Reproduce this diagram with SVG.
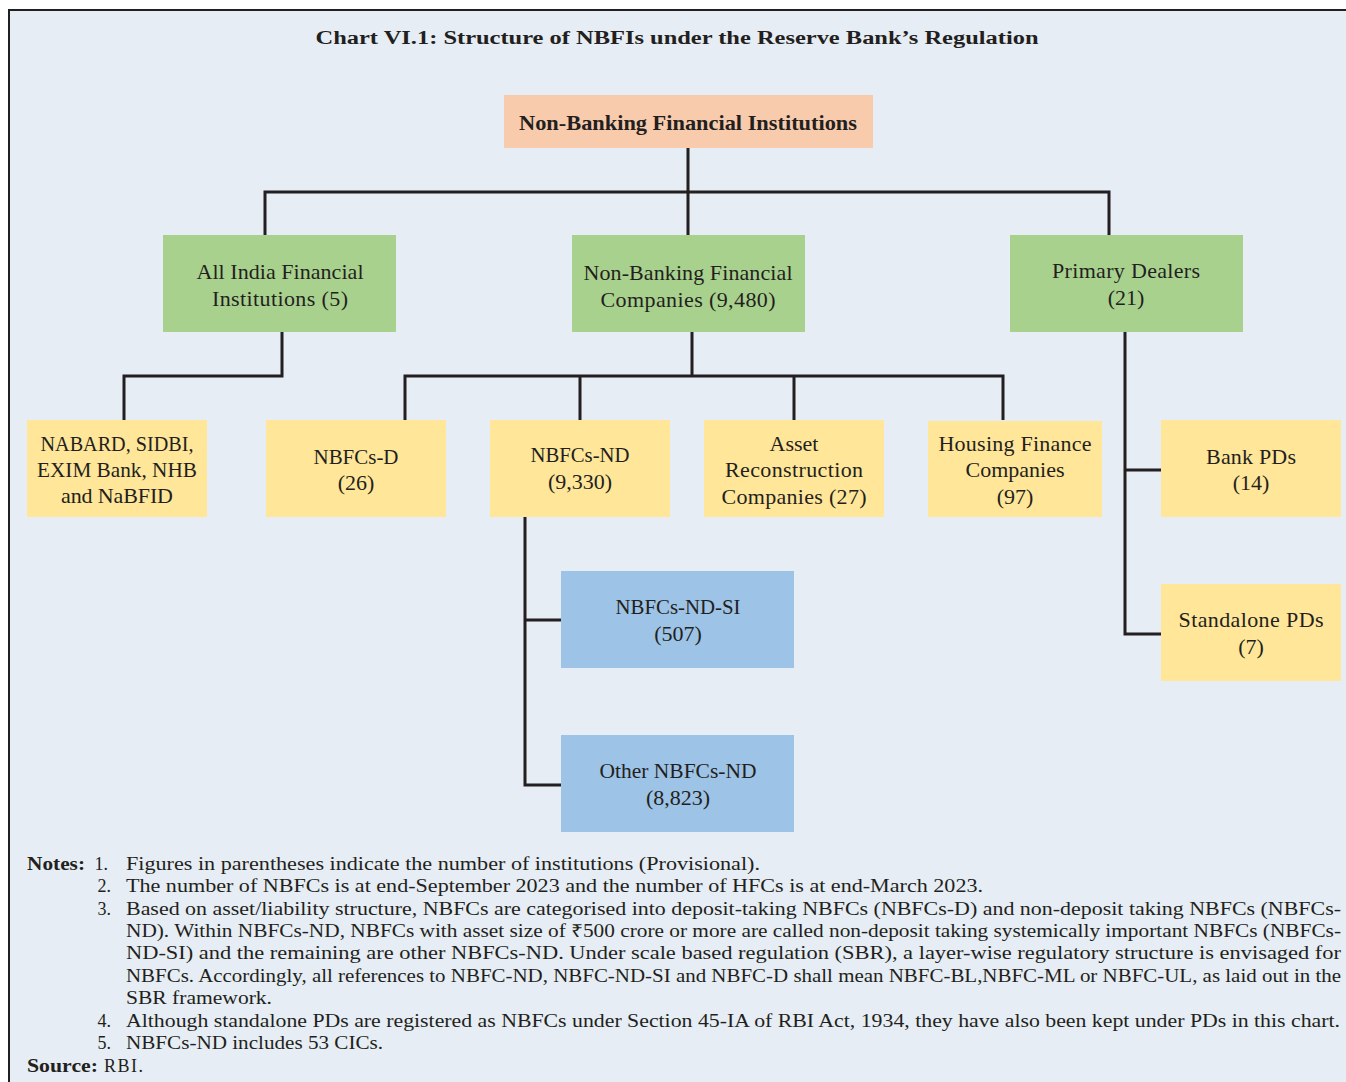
<svg xmlns="http://www.w3.org/2000/svg" width="1346" height="1082" viewBox="0 0 1346 1082">
<style>
.box-text{font-family:"Liberation Serif","Times New Roman",serif;font-size:22px;fill:#231f20;text-anchor:middle}
.note{font-family:"Liberation Serif","Times New Roman",serif;font-size:18px;fill:#231f20}
.bold{font-weight:bold}
.conn{fill:none;stroke:#231f20;stroke-width:3}
.peach{fill:#f8cbad}.green{fill:#a9d18e}.yellow{fill:#ffe699}.blue{fill:#9dc3e6}
</style>
<rect x="0" y="0" width="1346" height="1082" fill="#ffffff"/>
<rect x="9" y="10" width="1337" height="1072" fill="#e6edf4"/>
<path d="M9,1082 V10 H1346" fill="none" stroke="#231f20" stroke-width="2"/>
<text x="677" y="44" class="note bold" font-size="19" text-anchor="middle" textLength="723" lengthAdjust="spacingAndGlyphs">Chart VI.1: Structure of NBFIs under the Reserve Bank’s Regulation</text>

<g id="connectors">
<path class="conn" d="M688,148 V192 M265,235 V192 H1109 V235 M688,192 V235"/>
<path class="conn" d="M282,332 V376 H124 V420"/>
<path class="conn" d="M692,332 V376 M405,420 V376 H1003 V420 M580,376 V420 M794,376 V420"/>
<path class="conn" d="M1125,332 V634 H1161 M1125,470 H1161"/>
<path class="conn" d="M525,517 V785 H561 M525,620 H561"/>
</g>

<g id="nbfi">
<rect class="peach" x="504" y="95" width="369" height="53"/>
<text x="688" y="130" class="box-text bold" font-size="21" textLength="338" lengthAdjust="spacingAndGlyphs">Non-Banking Financial Institutions</text>
</g>
<g id="aifi">
<rect class="green" x="163" y="235" width="233" height="97"/>
<text class="box-text" x="280" y="279" textLength="167">All India Financial</text>
<text class="box-text" x="280" y="306" textLength="136">Institutions (5)</text>
</g>
<g id="nbfc">
<rect class="green" x="572" y="235" width="233" height="97"/>
<text class="box-text" x="688" y="280" textLength="209">Non-Banking Financial</text>
<text class="box-text" x="688" y="307" textLength="175">Companies (9,480)</text>
</g>
<g id="pd">
<rect class="green" x="1010" y="235" width="233" height="97"/>
<text class="box-text" x="1126" y="278" textLength="148">Primary Dealers</text>
<text class="box-text" x="1126" y="305">(21)</text>
</g>
<g id="nabard">
<rect class="yellow" x="27" y="420" width="180" height="97"/>
<text class="box-text" x="117" y="451" textLength="153" lengthAdjust="spacingAndGlyphs">NABARD, SIDBI,</text>
<text class="box-text" x="117" y="477" textLength="160" lengthAdjust="spacingAndGlyphs">EXIM Bank, NHB</text>
<text class="box-text" x="117" y="503" textLength="112">and NaBFID</text>
</g>
<g id="nbfcs-d">
<rect class="yellow" x="266" y="420" width="180" height="97"/>
<text class="box-text" x="356" y="464" textLength="85" lengthAdjust="spacingAndGlyphs">NBFCs-D</text>
<text class="box-text" x="356" y="490">(26)</text>
</g>
<g id="nbfcs-nd">
<rect class="yellow" x="490" y="420" width="180" height="97"/>
<text class="box-text" x="580" y="462" textLength="99" lengthAdjust="spacingAndGlyphs">NBFCs-ND</text>
<text class="box-text" x="580" y="489">(9,330)</text>
</g>
<g id="arc">
<rect class="yellow" x="704" y="420" width="180" height="97"/>
<text class="box-text" x="794" y="451">Asset</text>
<text class="box-text" x="794" y="477" textLength="138">Reconstruction</text>
<text class="box-text" x="794" y="504" textLength="145">Companies (27)</text>
</g>
<g id="hfc">
<rect class="yellow" x="928" y="421" width="174" height="96"/>
<text class="box-text" x="1015" y="451" textLength="153">Housing Finance</text>
<text class="box-text" x="1015" y="477">Companies</text>
<text class="box-text" x="1015" y="504">(97)</text>
</g>
<g id="bank-pds">
<rect class="yellow" x="1161" y="420" width="180" height="97"/>
<text class="box-text" x="1251" y="464" textLength="90">Bank PDs</text>
<text class="box-text" x="1251" y="490">(14)</text>
</g>
<g id="standalone-pds">
<rect class="yellow" x="1161" y="584" width="180" height="97"/>
<text class="box-text" x="1251" y="627" textLength="145">Standalone PDs</text>
<text class="box-text" x="1251" y="654">(7)</text>
</g>
<g id="nbfcs-nd-si">
<rect class="blue" x="561" y="571" width="233" height="97"/>
<text class="box-text" x="678" y="614" textLength="125" lengthAdjust="spacingAndGlyphs">NBFCs-ND-SI</text>
<text class="box-text" x="678" y="641">(507)</text>
</g>
<g id="other-nbfcs-nd">
<rect class="blue" x="561" y="735" width="233" height="97"/>
<text class="box-text" x="678" y="778" textLength="157" lengthAdjust="spacingAndGlyphs">Other NBFCs-ND</text>
<text class="box-text" x="678" y="805">(8,823)</text>
</g>

<g id="notes">
<text class="note bold" x="27" y="870" font-size="19" textLength="58" lengthAdjust="spacingAndGlyphs">Notes:</text>
<text class="note" x="108" y="870" text-anchor="end">1.</text>
<text class="note" x="126" y="870" textLength="634" lengthAdjust="spacingAndGlyphs">Figures in parentheses indicate the number of institutions (Provisional).</text>
<text class="note" x="111" y="892" text-anchor="end">2.</text>
<text class="note" x="126" y="892" textLength="857" lengthAdjust="spacingAndGlyphs">The number of NBFCs is at end-September 2023 and the number of HFCs is at end-March 2023.</text>
<text class="note" x="111" y="915" text-anchor="end">3.</text>
<text class="note" x="126" y="915" textLength="1215" lengthAdjust="spacingAndGlyphs">Based on asset/liability structure, NBFCs are categorised into deposit-taking NBFCs (NBFCs-D) and non-deposit taking NBFCs (NBFCs-</text>
<text class="note" x="126" y="937" textLength="1215" lengthAdjust="spacingAndGlyphs">ND). Within NBFCs-ND, NBFCs with asset size of ₹500 crore or more are called non-deposit taking systemically important NBFCs (NBFCs-</text>
<text class="note" x="126" y="959" textLength="1215" lengthAdjust="spacingAndGlyphs">ND-SI) and the remaining are other NBFCs-ND. Under scale based regulation (SBR), a layer-wise regulatory structure is envisaged for</text>
<text class="note" x="126" y="982" textLength="1215" lengthAdjust="spacingAndGlyphs">NBFCs. Accordingly, all references to NBFC-ND, NBFC-ND-SI and NBFC-D shall mean NBFC-BL,NBFC-ML or NBFC-UL, as laid out in the</text>
<text class="note" x="126" y="1004" textLength="146" lengthAdjust="spacingAndGlyphs">SBR framework.</text>
<text class="note" x="111" y="1027" text-anchor="end">4.</text>
<text class="note" x="126" y="1027" textLength="1214" lengthAdjust="spacingAndGlyphs">Although standalone PDs are registered as NBFCs under Section 45-IA of RBI Act, 1934, they have also been kept under PDs in this chart.</text>
<text class="note" x="111" y="1049" text-anchor="end">5.</text>
<text class="note" x="126" y="1049" textLength="257" lengthAdjust="spacingAndGlyphs">NBFCs-ND includes 53 CICs.</text>
<text class="note bold" x="27" y="1072" font-size="19" textLength="71" lengthAdjust="spacingAndGlyphs">Source:</text>
<text class="note" x="104" y="1072" textLength="39">RBI.</text>
</g>
</svg>
